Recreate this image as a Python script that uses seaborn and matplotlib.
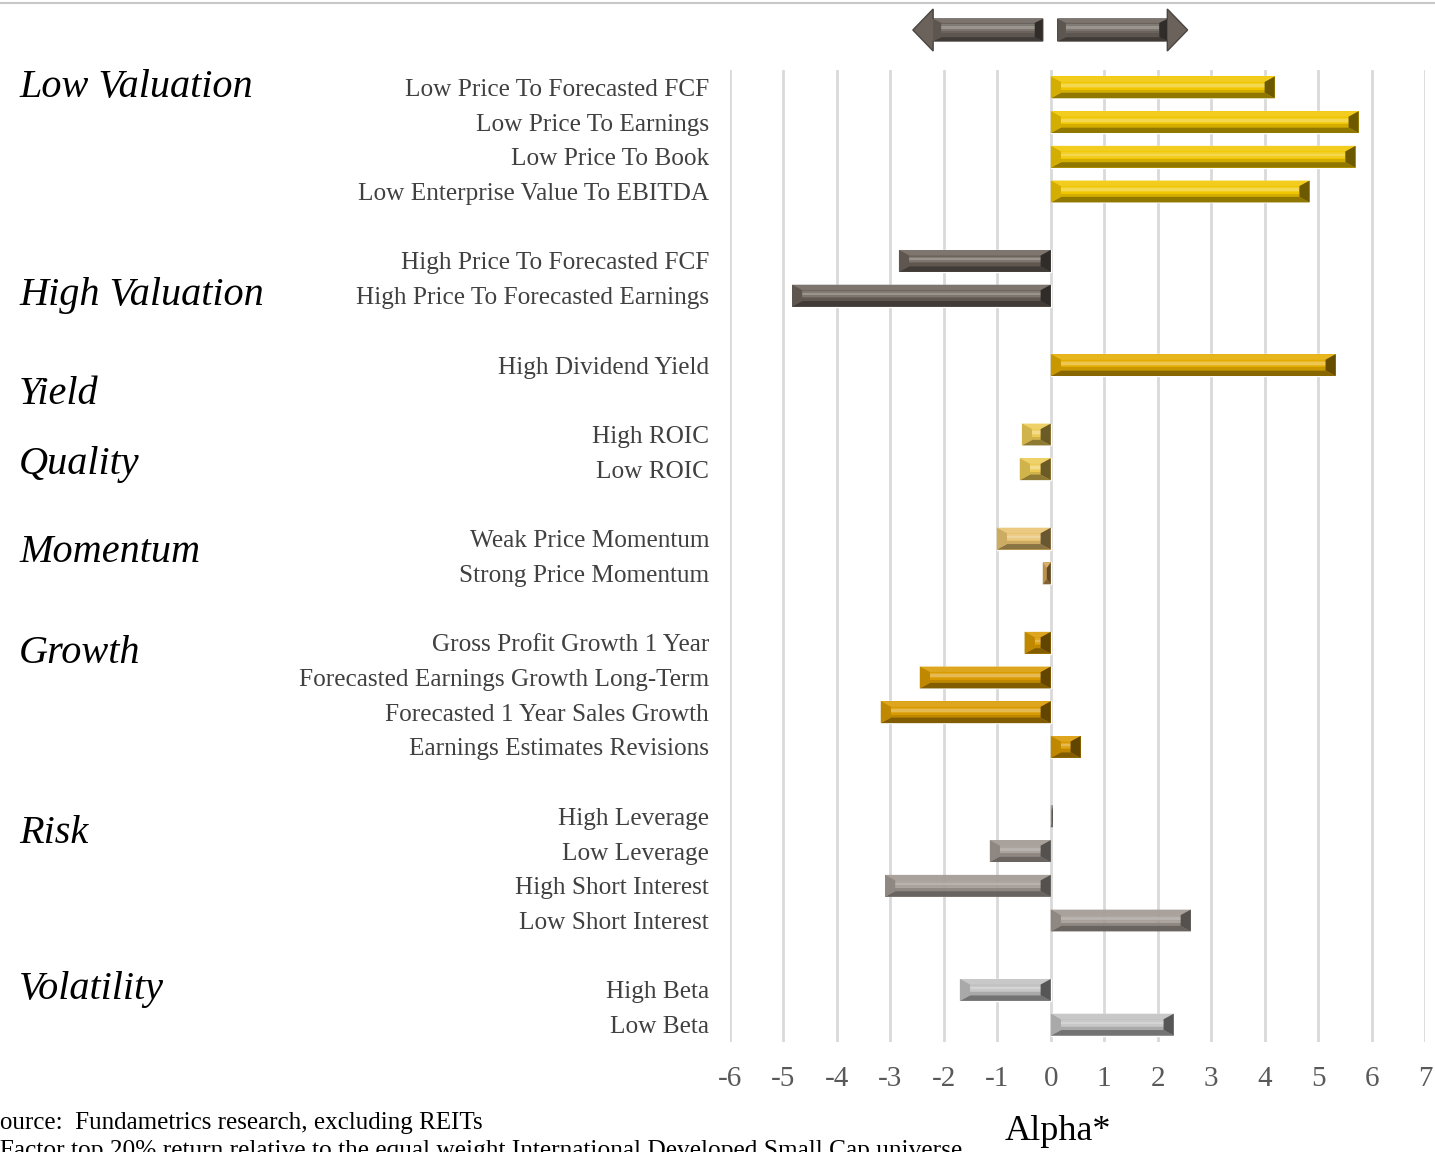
import numpy as np
import pandas as pd
import matplotlib
matplotlib.use("Agg")
import matplotlib.pyplot as plt
import seaborn as sns
from matplotlib.colors import to_rgb
from matplotlib.patches import Polygon
from matplotlib.transforms import blended_transform_factory
from matplotlib.lines import Line2D

# ---- data -------------------------------------------------------------
groups = ["Low Valuation", "High Valuation", "Yield", "Quality",
          "Momentum", "Growth", "Risk", "Volatility"]

factors = [
    "Low Price To Forecasted FCF", "Low Price To Earnings", "Low Price To Book",
    "Low Enterprise Value To EBITDA",
    "High Price To Forecasted FCF", "High Price To Forecasted Earnings",
    "High Dividend Yield",
    "High ROIC", "Low ROIC",
    "Weak Price Momentum", "Strong Price Momentum",
    "Gross Profit Growth 1 Year", "Forecasted Earnings Growth Long-Term",
    "Forecasted 1 Year Sales Growth", "Earnings Estimates Revisions",
    "High Leverage", "Low Leverage", "High Short Interest", "Low Short Interest",
    "High Beta", "Low Beta",
]
factor_group = (["Low Valuation"] * 4 + ["High Valuation"] * 2 + ["Yield"]
                + ["Quality"] * 2 + ["Momentum"] * 2 + ["Growth"] * 4
                + ["Risk"] * 4 + ["Volatility"] * 2)
alpha = [4.19, 5.76, 5.70, 4.84,
         -2.84, -4.84,
         5.33,
         -0.54, -0.58,
         -1.01, -0.15,
         -0.49, -2.45, -3.18, 0.56,
         0.04, -1.14, -3.10, 2.62,
         -1.70, 2.30]
x_ticks = list(range(-6, 8))

# ---- styling ----------------------------------------------------------
bar_colors = {
    "Low Price To Forecasted FCF": "#F0C600",
    "Low Price To Earnings": "#F0C600",
    "Low Price To Book": "#F0C600",
    "Low Enterprise Value To EBITDA": "#F0C600",
    "High Price To Forecasted FCF": "#6B625A",
    "High Price To Forecasted Earnings": "#6B625A",
    "High Dividend Yield": "#E4AC00",
    "High ROIC": "#EDCB55",
    "Low ROIC": "#EDCB55",
    "Weak Price Momentum": "#E8C270",
    "Strong Price Momentum": "#D4A458",
    "Gross Profit Growth 1 Year": "#D99A00",
    "Forecasted Earnings Growth Long-Term": "#D99A00",
    "Forecasted 1 Year Sales Growth": "#D99A00",
    "Earnings Estimates Revisions": "#D99A00",
    "High Leverage": "#9C948E",
    "Low Leverage": "#9C948E",
    "High Short Interest": "#9C948E",
    "Low Short Interest": "#9C948E",
    "High Beta": "#C0C0C0",
    "Low Beta": "#C0C0C0",
}
see_through = {"Risk": 0.85}
# rows (in bar units) where the italic group captions sit
group_label_rows = [0.0, 6.0, 8.85, 10.85, 13.4, 16.3, 21.5, 26.0]

SERIF = ["Liberation Serif", "DejaVu Serif"]

sns.set_theme(style="white")
plt.rcParams["font.family"] = SERIF

# row order with one blank row between groups
order = []
for gi, g in enumerate(groups):
    order += [f for f, fg in zip(factors, factor_group) if fg == g]
    if gi < len(groups) - 1:
        order.append(f"__gap{gi}")

df = pd.DataFrame({"factor": factors, "group": factor_group, "alpha": alpha})
group_of = dict(zip(factors, factor_group))

W, H = 1435, 1152
fig = plt.figure(figsize=(W / 100, H / 100), dpi=100)
ax = fig.add_axes([730 / W, 1 - 1042 / H, 695 / W, 972 / H])

sns.barplot(data=df, y="factor", x="alpha", order=order, hue="factor",
            hue_order=factors, palette=bar_colors, width=0.63, saturation=1,
            legend=False, orient="h", ax=ax, zorder=3)


def shade(c, f):
    r = np.array(to_rgb(c))
    if f >= 0:
        return tuple(r + (1 - r) * f)
    return tuple(r * (1 + f))


def bevel(ax, L, R, T, B, color, bx, by, transform=None, z=4, a=1.0):
    """Draw a bevelled face over the rectangle L..R x T..B (T above B visually)."""
    bx = min(bx, (R - L) / 2)
    kw = dict(closed=True, lw=0, zorder=z, alpha=a)
    if transform is not None:
        kw["transform"] = transform
        kw["clip_on"] = False
    dy = by if B > T else -by
    iT, iB = T + dy, B - dy
    h = iB - iT

    def band(f0, f1, f):
        ax.add_patch(Polygon([(L + bx, iT + f0 * h), (R - bx, iT + f0 * h),
                              (R - bx, iT + f1 * h), (L + bx, iT + f1 * h)],
                             fc=shade(color, f), **kw))

    # face: soft highlight across the upper part, darker towards the bottom
    ax.add_patch(Polygon([(L, T), (R, T), (R, B), (L, B)],
                         fc=shade(color, 0.0), **kw))
    band(0.10, 0.22, 0.15)
    band(0.22, 0.45, 0.32)
    band(0.45, 0.58, 0.12)
    band(0.72, 1.00, -0.12)
    # bevel bands
    ax.add_patch(Polygon([(L, T), (R, T), (R - bx, iT), (L + bx, iT)],
                         fc=shade(color, 0.12), **kw))
    ax.add_patch(Polygon([(L, B), (R, B), (R - bx, iB), (L + bx, iB)],
                         fc=shade(color, -0.40), **kw))
    ax.add_patch(Polygon([(L, T), (L + bx, iT), (L + bx, iB), (L, B)],
                         fc=shade(color, -0.12), **kw))
    ax.add_patch(Polygon([(R, T), (R - bx, iT), (R - bx, iB), (R, B)],
                         fc=shade(color, -0.55), **kw))


for p in list(ax.patches):
    w = p.get_width()
    if not np.isfinite(w) or w == 0:
        continue
    x0 = p.get_x()
    L, R = min(x0, x0 + w), max(x0, x0 + w)
    T, B = p.get_y(), p.get_y() + p.get_height()
    fc = p.get_facecolor()[:3]
    # find the factor this bar belongs to through its row
    row = int(round(p.get_y() + p.get_height() / 2))
    a = see_through.get(group_of.get(order[row], ""), 1.0)
    p.set_alpha(0.0 if a < 1 else 1.0)
    bevel(ax, L, R, T, B, fc, bx=0.19, by=0.16, a=a)

ax.set_xlim(-6, 7)
ax.set_ylim(len(order) - 0.5, -0.5)
ax.set_xticks(x_ticks)
ax.set_xticklabels([str(t) for t in x_ticks])
ax.set_yticks(range(len(order)))
ax.set_yticklabels(["" if o.startswith("__gap") else o for o in order])
ax.grid(axis="x", color="#d9d9d9", lw=2)
ax.grid(axis="y", visible=False)
ax.set_axisbelow(True)
for s in ax.spines.values():
    s.set_visible(False)
ax.tick_params(axis="x", length=0, pad=17, labelsize=21, labelcolor="#595959")
ax.tick_params(axis="y", length=0, pad=15, labelsize=18.2, labelcolor="#404040")
ax.set_xlabel("")
ax.set_ylabel("")

# group captions
for g, r in zip(groups, group_label_rows):
    y_fig = 1 - (70 + (r + 0.5) * 972 / len(order)) / H
    fig.text(19 / W, y_fig, g, ha="left", va="center", fontsize=29,
             style="italic", color="black")

# direction arrows above the plot
tr = blended_transform_factory(ax.transData, ax.transAxes)
ay = (1042 - 30) / 972
body, head = 11 / 972, 21 / 972
hl = 0.38
arrow_col = "#6A625B"
left_arrow = [(-0.15, ay + body), (-2.58 + hl, ay + body), (-2.58 + hl, ay + head),
              (-2.58, ay), (-2.58 + hl, ay - head), (-2.58 + hl, ay - body),
              (-0.15, ay - body)]
right_arrow = [(0.13, ay + body), (2.56 - hl, ay + body), (2.56 - hl, ay + head),
               (2.56, ay), (2.56 - hl, ay - head), (2.56 - hl, ay - body),
               (0.13, ay - body)]
for pts in (left_arrow, right_arrow):
    ax.add_patch(Polygon(pts, closed=True, fc=arrow_col, ec=shade(arrow_col, -0.3),
                         lw=1, transform=tr, clip_on=False, zorder=5))
bevel(ax, -2.58 + hl, -0.15, ay + body, ay - body, arrow_col, 0.15, 0.35 * body,
      transform=tr, z=6)
bevel(ax, 0.13, 2.56 - hl, ay + body, ay - body, arrow_col, 0.15, 0.35 * body,
      transform=tr, z=6)

# thin rule along the top edge
fig.add_artist(Line2D([0, 1], [1 - 3 / H, 1 - 3 / H], color="#c8c8c8", lw=1.5))

# axis title and footnotes
fig.text(1058 / W, 1 - 1131 / H, "Alpha*", ha="center", va="center",
         fontsize=26, color="black")
fig.text(-14 / W, 1 - 1123 / H, "Source:  Fundametrics research, excluding REITs",
         ha="left", va="center", fontsize=18, color="black")
fig.text(-13 / W, 1 - 1151 / H,
         "*Factor top 20% return relative to the equal weight International "
         "Developed Small Cap universe",
         ha="left", va="center", fontsize=18.3, color="black")

fig.savefig("out.png", dpi=100, facecolor="white")
